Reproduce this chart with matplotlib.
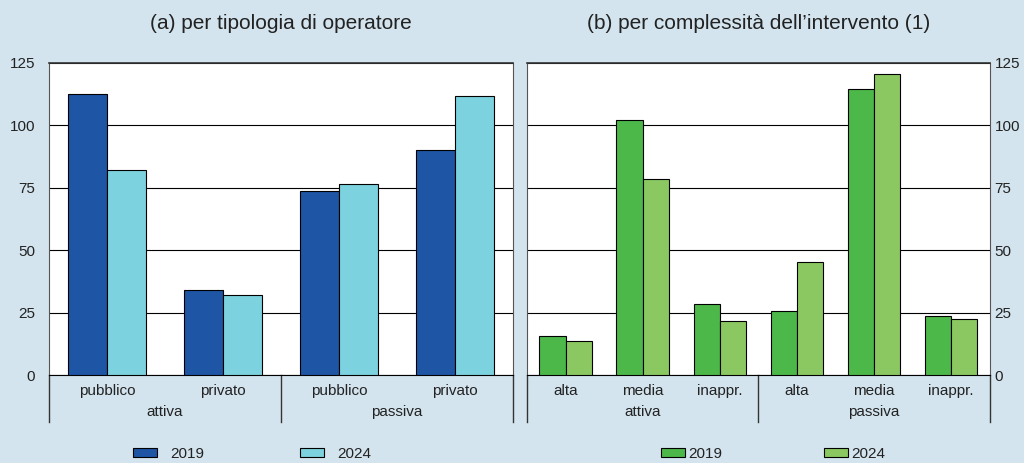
import matplotlib.pyplot as plt
import numpy as np

plt.rcParams['font.family'] = ['Liberation Sans', 'DejaVu Sans']
plt.rcParams['text.color'] = '#222222'
plt.rcParams['ytick.color'] = '#222222'

bg = "#d3e4ee"

# panel (a)
a_sub = ["pubblico", "privato", "pubblico", "privato"]
a_groups = ["attiva", "passiva"]
a_2019 = [112.6, 34.1, 73.8, 90.1]
a_2024 = [82.1, 32.1, 76.5, 111.8]

# panel (b)
b_sub = ["alta", "media", "inappr.", "alta", "media", "inappr."]
b_groups = ["attiva", "passiva"]
b_2019 = [15.8, 102.0, 28.5, 25.6, 114.4, 23.8]
b_2024 = [13.7, 78.6, 21.6, 45.3, 120.4, 22.4]

years = ["2019", "2024"]
yticks = [0, 25, 50, 75, 100, 125]

fig = plt.figure(figsize=(10.24, 4.63), dpi=100, facecolor=bg)
ax1 = fig.add_axes([0.0479, 0.190, 0.453, 0.674])
ax2 = fig.add_axes([0.5146, 0.190, 0.452, 0.674])


def panel(ax, sub, groups, v1, v2, c1, c2, title, right=False):
    x = np.arange(len(sub))
    w = 0.34
    b1 = ax.bar(x - w / 2, v1, w, color=c1, edgecolor="black", linewidth=0.8, zorder=3)
    b2 = ax.bar(x + w / 2, v2, w, color=c2, edgecolor="black", linewidth=0.8, zorder=3)
    ax.set_xlim(-0.5, len(sub) - 0.5)
    ax.set_ylim(0, 125)
    ax.set_yticks(yticks)
    ax.set_xticks([])
    ax.yaxis.grid(True, color="black", linewidth=0.8, zorder=1)
    if right:
        ax.yaxis.tick_right()
        ax.tick_params(axis="y", length=0, labelsize=11, pad=3.5)
    else:
        ax.tick_params(axis="y", length=0, labelsize=11, pad=10)
    for s in ["left", "right"]:
        ax.spines[s].set_color("#555555")
    ax.spines["top"].set_color("#333333")
    ax.spines["top"].set_linewidth(1.2)
    ax.set_title(title, fontsize=15, pad=24.5)

    trans = ax.get_xaxis_transform()
    for i, s in enumerate(sub):
        ax.text(i, -0.05, s, transform=trans, ha="center", va="center", fontsize=11)
    n = len(sub) // 2
    for g, name in enumerate(groups):
        ax.text(g * n + (n - 1) / 2, -0.118, name, transform=trans,
                ha="center", va="center", fontsize=11)
    for xv in [-0.5, n - 0.5, 2 * n - 0.5]:
        ax.plot([xv, xv], [0, -0.15], transform=trans, color="#333333",
                linewidth=1, clip_on=False)
    return b1, b2


h1 = panel(ax1, a_sub, a_groups, a_2019, a_2024, "#1f55a5", "#7dd2df",
           "(a) per tipologia di operatore")
h2 = panel(ax2, b_sub, b_groups, b_2019, b_2024, "#4db84a", "#8cc862",
           "(b) per complessità dell’intervento (1)", right=True)

fig.legend(h1, years, loc="center", bbox_to_anchor=(0.2461, 0.019), ncol=2,
           frameon=False, fontsize=11, handlelength=1.57, handleheight=0.5,
           handletextpad=0.85, columnspacing=6.28)
fig.legend(h2, years, loc="center", bbox_to_anchor=(0.7549, 0.019), ncol=2,
           frameon=False, fontsize=11, handlelength=1.57, handleheight=0.5,
           handletextpad=0.2, columnspacing=6.68)

fig.savefig("out.png", dpi=100, facecolor=bg)
